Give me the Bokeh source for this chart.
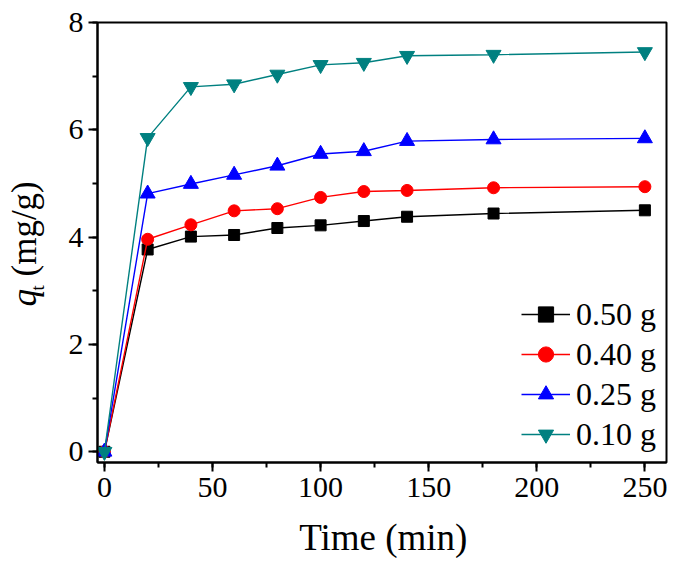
import math
from bokeh.plotting import figure
from bokeh.layouts import row, column
from bokeh.models import Range1d, SingleIntervalTicker, Legend, LegendItem, Label
from bokeh.embed import file_html
from bokeh.resources import INLINE

# ---- data ----
time_min = [0, 20, 40, 60, 80, 100, 120, 140, 180, 250]
q_050 = [0, 3.77, 4.01, 4.04, 4.17, 4.22, 4.30, 4.38, 4.44, 4.50]
q_040 = [0, 3.96, 4.23, 4.49, 4.53, 4.74, 4.85, 4.87, 4.92, 4.94]
q_025 = [0, 4.81, 4.99, 5.16, 5.33, 5.55, 5.60, 5.79, 5.82, 5.84]
q_010 = [0, 5.85, 6.80, 6.85, 7.03, 7.21, 7.25, 7.38, 7.40, 7.45]
series_labels = ["0.50 g", "0.40 g", "0.25 g", "0.10 g"]
x_label = "Time (min)"
y_label_q, y_label_sub, y_label_unit = "q", "t", "(mg/g)"

FONT = "Liberation Serif"

X0, X1 = -3.2, 260.0
Y0, Y1 = -0.2, 8.0

YLAB_W = 50          # strip holding the rotated y-axis title
TOTAL_W, TOTAL_H = 669, 558
MAIN_H = 512
MAIN_W = TOTAL_W - YLAB_W
XLAB_H = TOTAL_H - MAIN_H
LEFT_BORDER = 97 - YLAB_W

p = figure(width=MAIN_W, height=MAIN_H, output_backend="svg", toolbar_location=None,
           x_range=Range1d(X0, X1), y_range=Range1d(Y0, Y1),
           min_border_left=LEFT_BORDER, min_border_right=3, min_border_top=22,
           min_border_bottom=50, background_fill_color="white",
           border_fill_color="white")
p.grid.visible = False
p.outline_line_color = "black"
p.outline_line_width = 2

p.xaxis.ticker = SingleIntervalTicker(interval=50, num_minor_ticks=2)
p.yaxis.ticker = SingleIntervalTicker(interval=2, num_minor_ticks=2)
for ax in (p.xaxis, p.yaxis):
    ax.axis_line_width = 2
    ax.axis_line_color = "black"
    ax.major_tick_line_width = 2
    ax.minor_tick_line_width = 2
    ax.major_tick_out = 9
    ax.major_tick_in = 0
    ax.minor_tick_out = 5
    ax.minor_tick_in = 0
    ax.major_label_text_font = FONT
    ax.major_label_text_font_size = "30px"
    ax.major_label_text_color = "black"
p.xaxis.major_label_standoff = 6
p.yaxis.major_label_standoff = 5

styles = [
    (q_050, "black", "square", 11),
    (q_040, "#FF0000", "circle", 12),
    (q_025, "#0000FF", "triangle", 15),
    (q_010, "#008080", "inverted_triangle", 15),
]
items = []
for (ys, col, mk, sz), lab in zip(styles, series_labels):
    ln = p.line(time_min, ys, line_color=col, line_width=1.4)
    sc = p.scatter(time_min, ys, marker=mk, size=sz, fill_color=col, line_color=col)
    items.append(LegendItem(label=lab, renderers=[ln, sc]))

legend = Legend(items=items, location=(418, 3), margin=0, padding=6,
                glyph_width=49, glyph_height=38, label_height=38, spacing=2,
                label_standoff=6, label_text_font=FONT, label_text_font_size="32px",
                label_text_color="black", background_fill_alpha=0,
                border_line_alpha=0)
p.add_layout(legend)

# ---- y axis title "q_t (mg/g)" (rotated), in a strip left of the plot ----
ylab = figure(width=YLAB_W, height=TOTAL_H, output_backend="svg", toolbar_location=None,
              x_range=Range1d(0, YLAB_W), y_range=Range1d(TOTAL_H, 0),
              x_axis_location=None, y_axis_location=None,
              min_border=0, outline_line_color=None,
              background_fill_color="white", border_fill_color="white")
ylab.grid.visible = False
rot = dict(angle=math.pi / 2, text_align="left", text_baseline="middle",
           text_font=FONT, text_color="black")
ylab.add_layout(Label(x=24, y=306, text=y_label_q, text_font_size="35px",
                      text_font_style="italic", **rot))
ylab.add_layout(Label(x=37, y=290, text=y_label_sub, text_font_size="19px", **rot))
ylab.add_layout(Label(x=24, y=276, text=y_label_unit, text_font_size="35px", **rot))

# ---- x axis title, in a strip below the plot (shares the plot's x scale) ----
xlab = figure(width=MAIN_W, height=XLAB_H, output_backend="svg", toolbar_location=None,
              x_range=p.x_range, y_range=Range1d(XLAB_H, 0),
              x_axis_location=None, y_axis_location=None,
              min_border=0, min_border_left=LEFT_BORDER, min_border_right=3,
              outline_line_color=None,
              background_fill_color="white", border_fill_color="white")
xlab.grid.visible = False
xlab.add_layout(Label(x=129, y=25, text=x_label, text_font_size="37px",
                      text_align="center", text_baseline="middle",
                      text_font=FONT, text_color="black"))

layout = row(ylab, column(p, xlab, spacing=0), spacing=0)

open("out.html", "w").write(file_html(layout, INLINE))
